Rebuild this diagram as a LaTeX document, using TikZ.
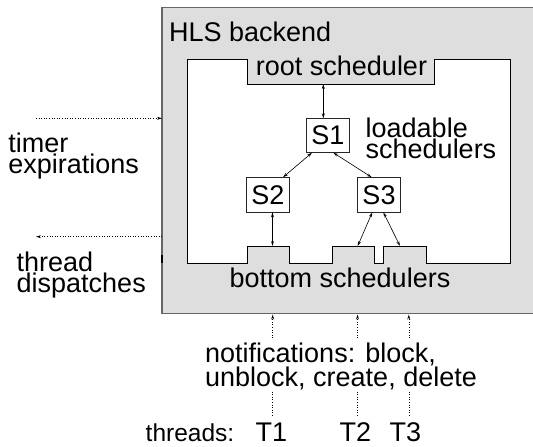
\documentclass[tikz,border=0pt]{standalone}
\usepackage{fontspec}
\setmainfont{Liberation Sans}
\usetikzlibrary{arrows.meta}
\newcommand\bigf{\fontsize{27}{21}\selectfont}
\newcommand\smallf{\fontsize{24.5}{21}\selectfont}
\begin{document}
\begin{tikzpicture}[x=1pt,y=-1pt,
  lbl/.style={inner sep=0pt,font=\bigf},
  multi/.style={inner sep=0pt,font=\bigf,align=left,anchor=base west},
  sbox/.style={draw=black!85,line width=0.9pt,fill=white,minimum width=42.5pt,minimum height=34.5pt,inner sep=0pt,font=\bigf},
  link/.style={line width=0.6pt,{Stealth[length=5pt,width=3pt,open]}-{Stealth[length=5pt,width=3pt,open]}},
  evt/.style={line width=0.6pt,dotted,-{Stealth[length=5pt,width=3pt,open]}},
  dotl/.style={line width=0.6pt,dotted}]
\useasboundingbox (0,0) rectangle (533,447);
% outer HLS backend box
\draw[fill=black!13,draw=black!60,line width=1.4pt] (162,7.5) rectangle (540,313.3);
% inner white region
\draw[fill=white,draw=black,line width=0.9pt]
  (187,59) -- (247,59) -- (247,84) -- (434,84) -- (434,59) -- (510.5,59)
  -- (510.5,263) -- (426,263) -- (426,246) -- (383,246) -- (383,263)
  -- (374.3,263) -- (374.3,246) -- (332,246) -- (332,263) -- (289.3,263)
  -- (289.3,246) -- (247.3,246) -- (247.3,263) -- (187,263) -- cycle;
\draw[black,line width=2.2pt] (162,255) -- (162,263.3);
% texts (multi-line nodes are anchored at the baseline of their last line)
\node[lbl,anchor=base west] (hls) at (169,41.7) {HLS backend};
\node[lbl,anchor=base] (root) at (341.5,75.5) {root scheduler};
\node[lbl,anchor=base] (bottom) at (340,287.5) {bottom schedulers};
\node[multi] (load) at (365.5,158.3) {loadable\\schedulers};
\node[multi] (timer) at (8.2,173.5) {timer\\expirations};
\node[multi] (disp) at (16.5,292.5) {thread\\dispatches};
\node[multi] (notif) at (205,386.5) {notifications: block,\\unblock, create, delete};
\node[inner sep=0pt,font=\smallf,anchor=base west] (threads) at (145.5,441) {threads:};
\node[lbl,anchor=base west] (T1) at (255.5,441) {T1};
\node[lbl,anchor=base west] (T2) at (339.5,441) {T2};
\node[lbl,anchor=base west] (T3) at (389.5,441) {T3};
% scheduler boxes
\node[sbox] (S1) at (328,135.5) {S1};
\node[sbox] (S2) at (268,194.8) {S2};
\node[sbox] (S3) at (379,194.8) {S3};
% connector end points
\coordinate (rootB) at (323.3,84);
\coordinate (S1T) at (323.3,118.3);
\coordinate (S1L) at (312,152.7);
\coordinate (S1R) at (333.3,152.7);
\coordinate (S2T) at (283,177.3);
\coordinate (S3T) at (371.7,177.3);
\coordinate (S2B) at (272.5,212.3);
\coordinate (S3L) at (372.3,212.3);
\coordinate (S3R) at (383.3,212.3);
\coordinate (n1) at (272.5,246);
\coordinate (n2) at (357.7,246);
\coordinate (n3) at (400,246);
\draw[link] (rootB) -- (S1T);
\draw[link] (S1L) -- (S2T);
\draw[link] (S1R) -- (S3T);
\draw[link] (S2B) -- (n1);
\draw[link] (S3L) -- (n2);
\draw[link] (S3R) -- (n3);
% external events
\coordinate (timerS) at (36,118.3);
\coordinate (timerE) at (162,118.3);
\coordinate (dispS) at (162,236.7);
\coordinate (dispE) at (36,236.7);
\draw[evt] (timerS) -- (timerE);
\draw[evt] (dispS) -- (dispE);
\coordinate (a1) at (272.7,338); \coordinate (b1) at (272.7,314.5);
\coordinate (a2) at (357.5,338); \coordinate (b2) at (357.5,314.5);
\coordinate (a3) at (408.8,338); \coordinate (b3) at (408.8,314.5);
\draw[evt] (a1) -- (b1);
\draw[evt] (a2) -- (b2);
\draw[evt] (a3) -- (b3);
\coordinate (c1) at (272.7,391.5); \coordinate (d1) at (272.7,416);
\coordinate (c2) at (357.5,391.5); \coordinate (d2) at (357.5,416);
\coordinate (c3) at (408.8,391.5); \coordinate (d3) at (408.8,416);
\draw[dotl] (c1) -- (d1);
\draw[dotl] (c2) -- (d2);
\draw[dotl] (c3) -- (d3);
\end{tikzpicture}
\end{document}
